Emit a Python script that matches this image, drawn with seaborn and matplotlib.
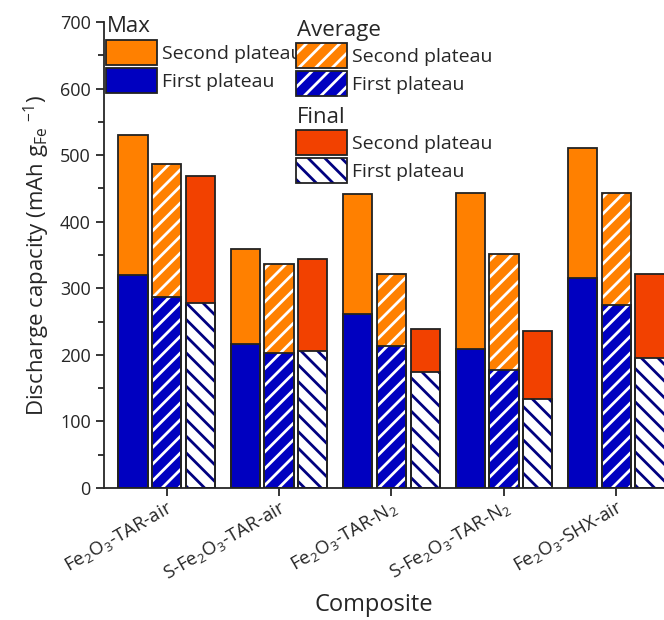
import numpy as np
import pandas as pd
import matplotlib
matplotlib.use('Agg')
import matplotlib.pyplot as plt
import seaborn as sns
from matplotlib.patches import Patch, Rectangle
from matplotlib.legend_handler import HandlerTuple
from matplotlib.ticker import MultipleLocator

# data
composites = [r'$\mathregular{Fe_2O_3}$-TAR-air', r'S-$\mathregular{Fe_2O_3}$-TAR-air',
              r'$\mathregular{Fe_2O_3}$-TAR-$\mathregular{N_2}$', r'S-$\mathregular{Fe_2O_3}$-TAR-$\mathregular{N_2}$',
              r'$\mathregular{Fe_2O_3}$-SHX-air']
kinds = ['Max', 'Average', 'Final']
max_total = [530, 359, 442, 443, 511]
max_first = [320, 216, 261, 209, 315]
avg_total = [486, 337, 322, 352, 443]
avg_first = [287, 203, 214, 178, 275]
fin_total = [469, 344, 239, 236, 321]
fin_first = [278, 206, 175, 133, 196]

orange = '#FF8000'
blue = '#0000C0'
red = '#F24100'
navy = '#000080'
edge = '#222222'

sns.set_style('ticks')
plt.rcParams['font.family'] = ['Open Sans', 'DejaVu Sans']
plt.rcParams['hatch.linewidth'] = 2.0
plt.rcParams['axes.linewidth'] = 1.3

df = pd.DataFrame({
    'composite': composites * 3,
    'kind': np.repeat(kinds, 5),
    'total': max_total + avg_total + fin_total,
    'first': max_first + avg_first + fin_first,
})

fig = plt.figure(figsize=(6.64, 6.2), dpi=100)
ax = fig.add_axes([104 / 664, 132 / 620, 575 / 664, 466 / 620])

common = dict(x='composite', hue='kind', hue_order=kinds, order=composites,
              width=0.9, gap=0.13, legend=False, ax=ax, saturation=1, linewidth=0)
sns.barplot(data=df, y='total', palette=[orange, orange, red], **common)
sns.barplot(data=df, y='first', palette=[blue, blue, 'white'], **common)

# hatches: containers are total(Max, Avg, Final), first(Max, Avg, Final)
styles = {1: ('//', 'white'), 4: ('//', 'white'), 5: ('\\\\', navy)}
for i, cont in enumerate(ax.containers):
    for bar in cont:
        if i in styles:
            bar.set_hatch(styles[i][0])
            bar.set_edgecolor(styles[i][1])
            bar.set_linewidth(0)
        # black outline on top
        ax.add_patch(Rectangle(bar.get_xy(), bar.get_width(), bar.get_height(),
                               fill=False, edgecolor=edge, linewidth=1.3, zorder=3))

ax.set_ylim(0, 700)
ax.set_xlim(-0.557, 4.557)
ax.yaxis.set_major_locator(MultipleLocator(100))
ax.yaxis.set_minor_locator(MultipleLocator(50))
ax.tick_params(axis='both', which='major', length=6, width=1.3, labelsize=13)
ax.tick_params(axis='x', labelsize=13.5, pad=1)
ax.tick_params(axis='y', which='minor', length=4, width=1.3)
plt.setp(ax.get_xticklabels(), rotation=30, ha='right', va='top', rotation_mode='anchor')
ax.set_xlabel('Composite', fontsize=17)
ax.xaxis.set_label_coords(0.47, -0.225)
ax.set_ylabel(r'Discharge capacity (mAh $\mathregular{g_{Fe}}$ $\mathregular{^{-1}}$)', fontsize=16, labelpad=6)
sns.despine(ax=ax)


def handle(face, hatch=None, hcol=None):
    if hatch is None:
        return Patch(facecolor=face, edgecolor=edge, linewidth=1.3)
    return (Patch(facecolor=face, edgecolor=hcol, hatch=hatch, linewidth=0),
            Patch(fill=False, edgecolor=edge, linewidth=1.3))


leg_kw = dict(loc='upper left', frameon=False, fontsize=14,
              handlelength=2.6, handleheight=1.6, handletextpad=0.3, labelspacing=0.155,
              borderpad=0, borderaxespad=0,
              bbox_transform=fig.transFigure, handler_map={tuple: HandlerTuple(ndivide=1, pad=0)})
labels = ['Second plateau', 'First plateau']
l1 = ax.legend([handle(orange), handle(blue)], labels,
               bbox_to_anchor=(106 / 664, 1 - 40 / 620), **leg_kw)
ax.add_artist(l1)
l2 = ax.legend([handle(orange, '//', 'white'), handle(blue, '//', 'white')], labels,
               bbox_to_anchor=(296 / 664, 1 - 43 / 620), **leg_kw)
ax.add_artist(l2)
l3 = ax.legend([handle(red), handle('white', '\\\\', navy)], labels,
               bbox_to_anchor=(296 / 664, 1 - 130 / 620), **leg_kw)

for name, x, y in [('Max', 107, 16), ('Average', 297, 20), ('Final', 297, 107)]:
    fig.text(x / 664, 1 - y / 620, name, fontsize=16, ha='left', va='top')

fig.savefig('out.png', dpi=100)
